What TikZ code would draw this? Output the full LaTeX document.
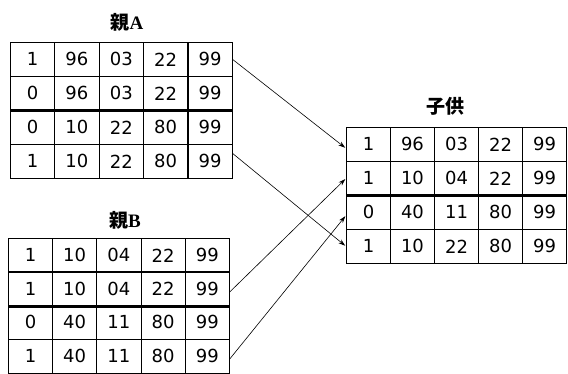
\documentclass[tikz,border=0pt]{standalone}
\usepackage{fontspec}
\newfontfamily\digitfont{DejaVu Sans}
\newfontfamily\cjk{Noto Sans CJK JP}
\newfontfamily\latinfont{Liberation Serif}
\usepackage{tikz}
\usetikzlibrary{arrows.meta}

\tikzset{
  cell/.style={draw, line width=0.8pt, anchor=north west, minimum width=44.2pt,
    minimum height=34pt, inner sep=0pt, font=\digitfont\fontsize{18}{18}\selectfont},
  parent/.style={font=\bfseries\fontsize{19}{19}\selectfont},
  cross/.style={line width=0.6pt, -{Stealth[length=7pt,width=4.5pt]}, shorten >=1pt},
  cut/.style={line width=3pt}
}

\begin{document}
\begin{tikzpicture}[x=1pt,y=-1pt]
\useasboundingbox (0,0) rectangle (568,374);
% titles
\node[parent] (tA) at (127,22) {\cjk 親\latinfont A};
\node[parent] (tB) at (125,220) {\cjk 親\latinfont B};
\node[parent] (tC) at (445,106) {\cjk 子供};
% parent A
\foreach \r/\vals in {1/{1,96,03,22,99},2/{0,96,03,22,99},3/{0,10,22,80,99},4/{1,10,22,80,99}}
  \foreach \v [count=\c] in \vals
    \node[cell] (A-\r-\c) at ({10+44.4*(\c-1)},{42+34*(\r-1)}) {\v};
% parent B
\foreach \r/\vals in {1/{1,10,04,22,99},2/{1,10,04,22,99},3/{0,40,11,80,99},4/{1,40,11,80,99}}
  \foreach \v [count=\c] in \vals
    \node[cell] (B-\r-\c) at ({8+44.2*(\c-1)},{238+33.5*(\r-1)}) {\v};
% child
\foreach \r/\vals in {1/{1,96,03,22,99},2/{1,10,04,22,99},3/{0,40,11,80,99},4/{1,10,22,80,99}}
  \foreach \v [count=\c] in \vals
    \node[cell] (C-\r-\c) at ({346+44*(\c-1)},{127+34*(\r-1)}) {\v};
% crossover points
\draw[cut] (A-2-1.south west) -- (A-2-5.south east);
\draw[cut] (B-2-1.south west) -- (B-2-5.south east);
\draw[cut] (C-2-1.south west) -- (C-2-5.south east);
% inheritance
\draw[cross] (A-1-5.east) -- ([yshift=-4pt]C-1-1.west);
\draw[cross] ([yshift=8pt]A-4-5.east) -- (C-4-1.west);
\draw[cross] ([yshift=-3pt]B-2-5.east) -- (C-2-1.west);
\draw[cross] ([yshift=-3pt]B-4-5.east) -- ([yshift=-3pt]C-3-1.west);
\end{tikzpicture}
\end{document}
